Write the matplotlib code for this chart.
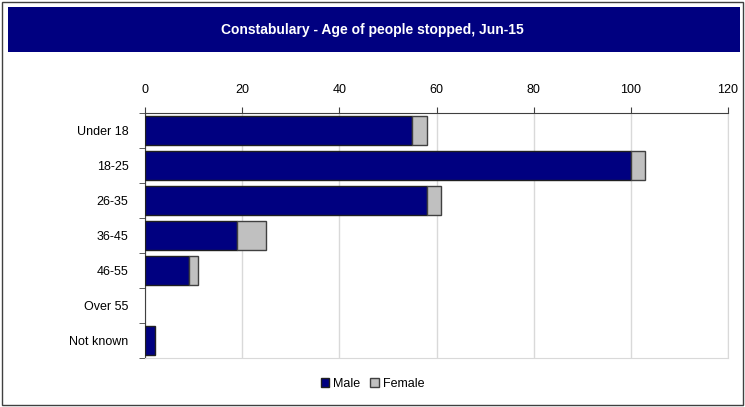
import numpy as np
import matplotlib.pyplot as plt
from matplotlib.patches import Rectangle

# data
categories = ['Under 18', '18-25', '26-35', '36-45', '46-55', 'Over 55', 'Not known']
male = [55, 100, 58, 19, 9, 0, 2]
female = [3, 3, 3, 6, 2, 0, 0]
xticks = [0, 20, 40, 60, 80, 100, 120]

navy = '#000080'
grey = '#c0c0c0'

plt.rcParams['font.family'] = ['Liberation Sans', 'DejaVu Sans']

W, H = 745, 407
fig = plt.figure(figsize=(W / 100, H / 100), dpi=100)

# outer frame
fig.patches.append(Rectangle((2 / W, 2 / H), (W - 4) / W, (H - 4) / H, transform=fig.transFigure,
                             facecolor='none', edgecolor='#404040', linewidth=1, zorder=5))
# title banner
fig.patches.append(Rectangle((8 / W, 1 - 52 / H), (740 - 8) / W, 45 / H, transform=fig.transFigure,
                             facecolor=navy, edgecolor='none', zorder=1))
fig.text(0.5, 1 - 30 / H, 'Constabulary - Age of people stopped, Jun-15', color='white',
         ha='center', va='center', fontsize=10, fontweight='bold')

ax = fig.add_axes([145 / W, 1 - 358 / H, (728 - 145) / W, (358 - 113) / H])
y = np.arange(len(categories))
# no outline on empty segments
lw_m = [1 if v > 0 else 0 for v in male]
lw_f = [1 if v > 0 else 0 for v in female]
ax.barh(y, male, height=0.83, color=navy, edgecolor='#202020', linewidth=lw_m, label='Male', zorder=3)
ax.barh(y, female, left=male, height=0.83, color=grey, edgecolor='#404040', linewidth=lw_f,
        label='Female', zorder=3)

ax.set_xlim(0, 120)
ax.set_ylim(len(categories) - 0.5, -0.5)
ax.set_xticks(xticks)
ax.set_yticks(y)
ax.set_yticklabels(categories, fontsize=9)
ax.xaxis.tick_top()
ax.tick_params(axis='x', labelsize=9, length=4, color='#404040', pad=8)
ax.tick_params(axis='y', length=4, color='#404040', pad=12)
ax.set_yticks(np.arange(-0.5, len(categories), 1), minor=True)
ax.tick_params(axis='y', which='major', length=0)
ax.tick_params(axis='y', which='minor', length=4, color='#404040')
ax.grid(axis='x', color='#d9d9d9', linewidth=1, zorder=0)
ax.set_axisbelow(True)
for s in ['top', 'left']:
    ax.spines[s].set_color('#404040')
for s in ['right', 'bottom']:
    ax.spines[s].set_color('#d9d9d9')

leg = fig.legend(loc='center', bbox_to_anchor=(0.5, 1 - 384 / H), ncol=2, frameon=False, fontsize=9,
                 handlelength=0.7, handleheight=0.7, handletextpad=0.3, columnspacing=0.8)
for h in leg.legend_handles:
    h.set_linewidth(1)

fig.savefig('out.png', dpi=100)
